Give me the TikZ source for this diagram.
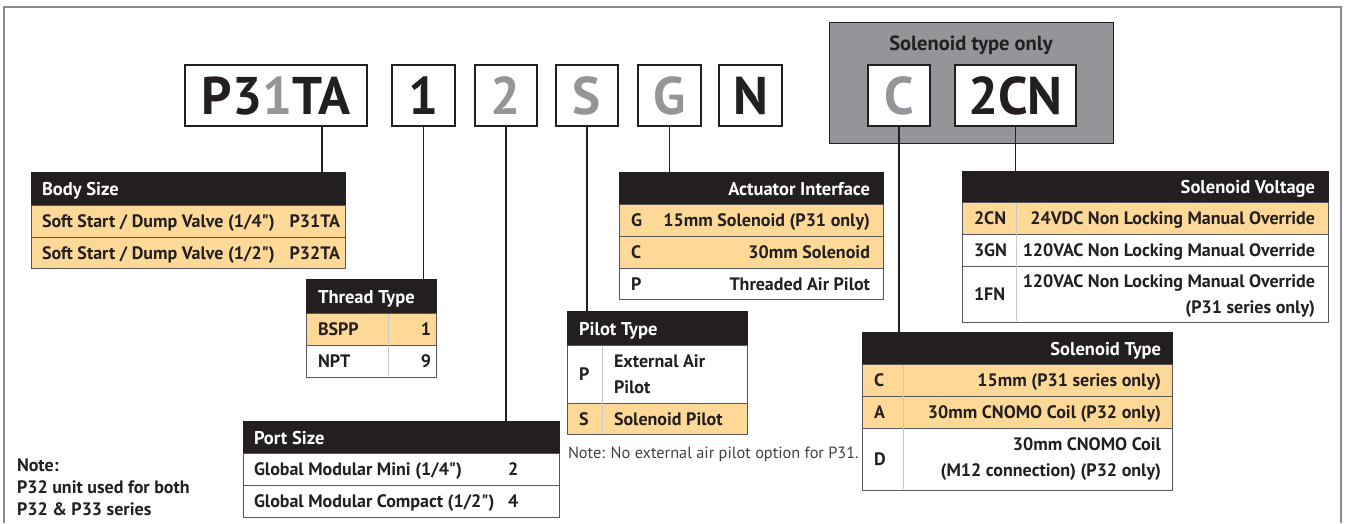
\documentclass[tikz,border=0pt]{standalone}
\usepackage{fontspec}
\setmainfont{PT Sans}[Ligatures=TeXOff]
\newfontfamily\codefont{PT Sans}
\usetikzlibrary{calc,positioning}
\definecolor{codeblack}{RGB}{35,31,32}
\definecolor{codegray}{RGB}{147,149,152}
\definecolor{rowamber}{RGB}{254,216,150}
\definecolor{framegray}{RGB}{140,140,140}
\tikzset{
  codebox/.style={draw=codeblack, line width=1.6pt, fill=white, anchor=north west,
                  minimum height=61pt, text=codeblack,
                  font=\codefont\fontsize{53}{53}\selectfont\bfseries},
  thead/.style ={draw=codeblack, fill=codeblack, line width=0.8pt, anchor=north west},
  trow/.style  ={draw=codeblack!75, fill=white, line width=0.9pt, anchor=north west},
  trowhi/.style={trow, fill=rowamber},
  htext/.style ={text=white, font=\fontsize{18.5}{22}\selectfont\bfseries},
  ctext/.style ={text=codeblack, font=\fontsize{18}{26}\selectfont\bfseries},
  csep/.style  ={codeblack!25, line width=0.6pt},
  conn/.style  ={codeblack, line width=1.6pt},
}
\begin{document}
\begin{tikzpicture}[x=1pt, y=-1pt, every node/.style={inner sep=0pt, outer sep=0pt}]
\useasboundingbox (0,0) rectangle (1351,523);
\draw[framegray, line width=1.2pt] (4,523) -- (4,7) -- (1341,7) -- (1341,523);
% solenoid group
\node[draw=codeblack, fill=codegray, line width=1pt, anchor=north west,
      minimum width=284pt, minimum height=121pt] (solgroup) at (829,22) {};
\node[ctext, font=\fontsize{20.5}{22}\selectfont\bfseries, anchor=base] (solgrouplabel)
  at (971,50) {Solenoid type only};
% code boxes
\node[codebox, minimum width=182pt] (cP31TA) at (185,65) {P3{\color{codegray}1}TA};
\node[codebox, minimum width=63pt] (c1) at (392,65) {1};
\node[codebox, minimum width=62pt, text=codegray] (c2) at (475,65) {2};
\node[codebox, minimum width=62pt, text=codegray] (cS) at (556,65) {S};
\node[codebox, minimum width=63pt, text=codegray] (cG) at (638,65) {G};
\node[codebox, minimum width=63pt] (cN) at (719,65) {N};
\node[codebox, minimum width=62pt, text=codegray] (cC) at (868,65) {C};
\node[codebox, minimum width=121pt] (c2CN) at (955,65) {2CN};

% Body Size
\node[thead, minimum width=314pt, minimum height=33pt] (body) at (31,172) {};
\node[trowhi, minimum width=314pt, minimum height=32pt] (body1) at (31,205) {};
\node[trowhi, minimum width=314pt, minimum height=31pt] (body2) at (31,237) {};
\node[htext, anchor=base west] at ([xshift=11pt, yshift=-7pt]body.west) {Body Size};
\node[ctext, anchor=base west] at ([xshift=11pt, yshift=-6.5pt]body1.west) {Soft Start / Dump Valve (1/4")};
\node[ctext, anchor=base east] at ([xshift=-5pt, yshift=-6.5pt]body1.east) {P31TA};
\node[ctext, anchor=base west] at ([xshift=11pt, yshift=-6.5pt]body2.west) {Soft Start / Dump Valve (1/2")};
\node[ctext, anchor=base east] at ([xshift=-5pt, yshift=-6.5pt]body2.east) {P32TA};

% Thread Type
\node[thead, minimum width=130pt, minimum height=34pt] (thread) at (306,279) {};
\node[trowhi, minimum width=130pt, minimum height=32pt] (thread1) at (306,313) {};
\node[trow, minimum width=130pt, minimum height=32pt] (thread2) at (306,345) {};
\draw[csep] (388,314) -- (388,376);
\node[htext, anchor=base west] at ([xshift=12pt, yshift=-7pt]thread.west) {Thread Type};
\node[ctext, anchor=base west] at ([xshift=12pt, yshift=-6.5pt]thread1.west) {BSPP};
\node[ctext, anchor=base east] at ([xshift=-5pt, yshift=-6.5pt]thread1.east) {1};
\node[ctext, anchor=base west] at ([xshift=12pt, yshift=-6.5pt]thread2.west) {NPT};
\node[ctext, anchor=base east] at ([xshift=-5pt, yshift=-6.5pt]thread2.east) {9};

% Port Size
\node[thead, minimum width=316pt, minimum height=32pt] (port) at (243,421) {};
\node[trow, minimum width=316pt, minimum height=32pt] (port1) at (243,453) {};
\node[trow, minimum width=316pt, minimum height=32pt] (port2) at (243,485) {};
\node[htext, anchor=base west] at ([xshift=11pt, yshift=-7pt]port.west) {Port Size};
\node[ctext, anchor=base west] at ([xshift=11pt, yshift=-6.5pt]port1.west) {Global Modular Mini (1/4")};
\node[ctext, anchor=base west] at ([xshift=265pt, yshift=-6.5pt]port1.west) {2};
\node[ctext, anchor=base west] at ([xshift=11pt, yshift=-6.5pt]port2.west) {Global Modular Compact (1/2")};
\node[ctext, anchor=base west] at ([xshift=265pt, yshift=-6.5pt]port2.west) {4};

% Pilot Type
\node[thead, minimum width=180pt, minimum height=34pt] (pilot) at (567,311) {};
\node[trow, minimum width=180pt, minimum height=58pt] (pilotP) at (567,345) {};
\node[trowhi, minimum width=180pt, minimum height=31pt] (pilotS) at (567,403) {};
\draw[csep] (602,346) -- (602,433);
\node[htext, anchor=base west] at ([xshift=12pt, yshift=-7pt]pilot.west) {Pilot Type};
\node[ctext, anchor=base west] at ([xshift=12pt, yshift=-6.5pt]pilotP.west) {P};
\node[ctext, anchor=west, align=left] at ([xshift=47pt]pilotP.west) {External Air\\Pilot};
\node[ctext, anchor=base west] at ([xshift=12pt, yshift=-6.5pt]pilotS.west) {S};
\node[ctext, anchor=base west] at ([xshift=47pt, yshift=-6.5pt]pilotS.west) {Solenoid Pilot};
\node[text=codeblack!85, font=\fontsize{16.3}{20}\selectfont, anchor=base west] (pilotnote)
  at ([xshift=1pt, yshift=-24pt]pilotS.south west) {Note: No external air pilot option for P31.};

% Actuator Interface
\node[thead, minimum width=264pt, minimum height=32pt] (act) at (619,172) {};
\node[trowhi, minimum width=264pt, minimum height=32pt] (actG) at (619,204) {};
\node[trowhi, minimum width=264pt, minimum height=32pt] (actC) at (619,236) {};
\node[trow, minimum width=264pt, minimum height=31pt] (actP) at (619,268) {};
\node[htext, anchor=base east] at ([xshift=-13pt, yshift=-7pt]act.east) {Actuator Interface};
\node[ctext, anchor=base west] at ([xshift=12pt, yshift=-6.5pt]actG.west) {G};
\node[ctext, anchor=base east] at ([xshift=-13pt, yshift=-6.5pt]actG.east) {15mm Solenoid (P31 only)};
\node[ctext, anchor=base west] at ([xshift=12pt, yshift=-6.5pt]actC.west) {C};
\node[ctext, anchor=base east] at ([xshift=-13pt, yshift=-6.5pt]actC.east) {30mm Solenoid};
\node[ctext, anchor=base west] at ([xshift=12pt, yshift=-6.5pt]actP.west) {P};
\node[ctext, anchor=base east] at ([xshift=-13pt, yshift=-6.5pt]actP.east) {Threaded Air Pilot};

% Solenoid Voltage
\node[thead, minimum width=366pt, minimum height=31pt] (volt) at (962,171) {};
\node[trowhi, minimum width=366pt, minimum height=32pt] (volt1) at (962,202) {};
\node[trow, minimum width=366pt, minimum height=32pt] (volt2) at (962,234) {};
\node[trow, minimum width=366pt, minimum height=56pt] (volt3) at (962,266) {};
\draw[csep] (1016,203) -- (1016,321);
\node[htext, anchor=base east] at ([xshift=-13pt, yshift=-7pt]volt.east) {Solenoid Voltage};
\node[ctext, anchor=base west] at ([xshift=12pt, yshift=-6.5pt]volt1.west) {2CN};
\node[ctext, anchor=base east] at ([xshift=-13pt, yshift=-6.5pt]volt1.east) {24VDC Non Locking Manual Override};
\node[ctext, anchor=base west] at ([xshift=12pt, yshift=-6.5pt]volt2.west) {3GN};
\node[ctext, anchor=base east] at ([xshift=-13pt, yshift=-6.5pt]volt2.east) {120VAC Non Locking Manual Override};
\node[ctext, anchor=base west] at ([xshift=12pt, yshift=-6.5pt]volt3.west) {1FN};
\node[ctext, anchor=east, align=right] at ([xshift=-13pt, yshift=-2pt]volt3.east) {120VAC Non Locking Manual Override\\(P31 series only)};

% Solenoid Type
\node[thead, minimum width=310pt, minimum height=32pt] (stype) at (862,332) {};
\node[trowhi, minimum width=310pt, minimum height=32pt] (stypeC) at (862,364) {};
\node[trowhi, minimum width=310pt, minimum height=32pt] (stypeA) at (862,396) {};
\node[trow, minimum width=310pt, minimum height=62pt] (stypeD) at (862,428) {};
\draw[csep] (903,365) -- (903,489);
\node[htext, anchor=base east] at ([xshift=-11pt, yshift=-7pt]stype.east) {Solenoid Type};
\node[ctext, anchor=base west] at ([xshift=12pt, yshift=-6.5pt]stypeC.west) {C};
\node[ctext, anchor=base east] at ([xshift=-11pt, yshift=-6.5pt]stypeC.east) {15mm (P31 series only)};
\node[ctext, anchor=base west] at ([xshift=12pt, yshift=-6.5pt]stypeA.west) {A};
\node[ctext, anchor=base east] at ([xshift=-11pt, yshift=-6.5pt]stypeA.east) {30mm CNOMO Coil (P32 only)};
\node[ctext, anchor=base west] at ([xshift=12pt, yshift=-6.5pt]stypeD.west) {D};
\node[ctext, anchor=east, align=right] at ([xshift=-11pt]stypeD.east) {30mm CNOMO Coil\\(M12 connection) (P32 only)};

% side note
\node[ctext, font=\fontsize{18}{22}\selectfont\bfseries, anchor=north west, align=left] (sidenote)
  at (17,459) {Note:\\P32 unit used for both\\P32 \& P33 series};

% connectors
\coordinate (tapP31TA) at ($(cP31TA.south west)!0.753!(cP31TA.south east)$);
\draw[conn] (tapP31TA) -- (tapP31TA |- body.north);
\draw[conn] (c1.south) -- (c1.south |- thread.north);
\draw[conn] (c2.south) -- (c2.south |- port.north);
\draw[conn] (cS.south) -- (cS.south |- pilot.north);
\draw[conn] (cG.south) -- (cG.south |- act.north);
\draw[conn] (cC.south) -- (cC.south |- stype.north);
\draw[conn] (c2CN.south) -- (c2CN.south |- volt.north);
\end{tikzpicture}
\end{document}
